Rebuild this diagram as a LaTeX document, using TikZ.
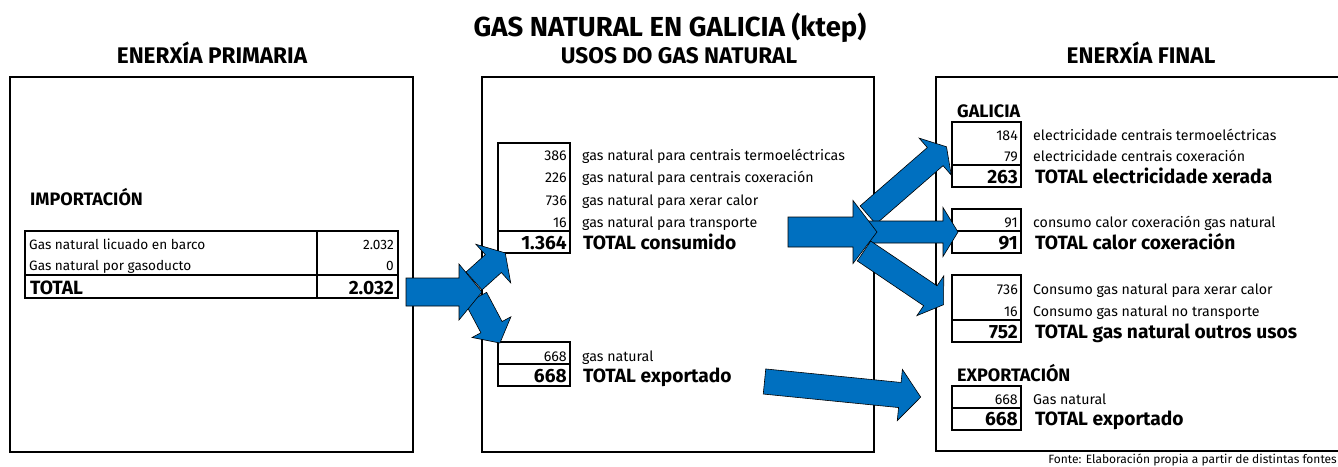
\documentclass[tikz,border=0pt]{standalone}
\usepackage{fontspec}
\setmainfont{Fira Sans}
\usetikzlibrary{positioning}

\definecolor{flowblue}{HTML}{0070C0}
\newcommand{\rowfont}{\fontsize{14.2}{16}\selectfont}
\newcommand{\leftfont}{\fontsize{13.6}{15}\selectfont}
\newcommand{\totfont}{\fontsize{19.2}{21}\selectfont\bfseries}
\newcommand{\headfont}{\fontsize{22.6}{24}\selectfont\bfseries}
\newcommand{\sectfont}{\fontsize{18}{20}\selectfont\bfseries}
% block arrow: tail, angle, length, shaft half width, head half width, head length
\newcommand{\flowarrow}[6]{%
  \begin{scope}[shift={#1}, rotate=#2]
    \filldraw[flow] (0,#4) -- ({#3-#6},#4) -- ({#3-#6},#5) -- (#3,0)
      -- ({#3-#6},-#5) -- ({#3-#6},-#4) -- (0,-#4) -- cycle;
  \end{scope}}

\tikzset{
  panel/.style={draw, line width=1.5pt},
  cell/.style={draw, line width=1.5pt},
  flow/.style={fill=flowblue, draw=black, line width=0.6pt},
  num/.style={anchor=base east, inner sep=0pt, font=\rowfont},
  numtot/.style={anchor=base east, inner sep=0pt, font=\totfont},
  lbl/.style={inner sep=0pt, font=\rowfont},
  lbltot/.style={inner sep=0pt, font=\totfont},
  head/.style={anchor=base, inner sep=0pt, font=\headfont},
  sect/.style={anchor=base west, inner sep=0pt, font=\sectfont}
}

\begin{document}
\begin{tikzpicture}[x=1pt, y=-1pt]
    \clip (0,0) rectangle (1338,466);

    \node (title) [anchor=base, inner sep=0pt, font=\fontsize{27.5}{30}\selectfont\bfseries] at (670,36) {GAS NATURAL EN GALICIA (ktep)};
    \node (hprim) [head] at (212,63.5) {ENERXÍA PRIMARIA};
    \node (husos) [head] at (679,63.5) {USOS DO GAS NATURAL};
    \node (hfinal) [head] at (1141,63.5) {ENERXÍA FINAL};

    % panels
    \draw [panel] (10,77) rectangle (413,452);
    \draw [panel] (482,77) rectangle (874,452);
    \draw [panel] (936,77) rectangle (1345,451);

    % primary energy
    \node (imp) [sect] at (30,205) {IMPORTACIÓN};
    \draw [cell] (25,231) rectangle (398,298);
    \draw [cell] (317,231) -- (317,298);
    \draw [cell] (25,275) -- (398,275);
    \node (lic) [lbl, font=\leftfont, anchor=base west] at (29,249.3) {Gas natural licuado en barco};
    \node (licv) [num, font=\leftfont] at (394,249.3) {2.032};
    \node (gdt) [lbl, font=\leftfont, anchor=base west] at (29,270.7) {Gas natural por gasoducto};
    \node (gdtv) [num, font=\leftfont] at (394,270.7) {0};
    \node (tot) [lbltot, anchor=base west] at (30,294) {TOTAL};
    \node (totv) [numtot] at (394,294) {2.032};

    % uses
    \draw [cell] (498,143) rectangle (570,253);
    \draw [cell] (498,231) -- (570,231);
    \node (c386) [num] at (567,160.7) {386};
    \node (l386) [lbl, base right=15pt of c386] {gas natural para centrais termoeléctricas};
    \node (c226) [num] at (567,182.7) {226};
    \node (l226) [lbl, base right=15pt of c226] {gas natural para centrais coxeración};
    \node (c736) [num] at (567,205) {736};
    \node (l736) [lbl, base right=15pt of c736] {gas natural para xerar calor};
    \node (c16) [num] at (567,227.7) {16};
    \node (l16) [lbl, base right=15pt of c16] {gas natural para transporte};
    \node (ctot) [numtot] at (567,249.3) {1.364};
    \node (ltot) [lbltot, base right=16pt of ctot] {TOTAL consumido};

    \draw [cell] (498,342) rectangle (570,386);
    \draw [cell] (498,364) -- (570,364);
    \node (e668) [num] at (567,361) {668};
    \node (le668) [lbl, base right=15pt of e668] {gas natural};
    \node (etot) [numtot] at (567,382.7) {668};
    \node (letot) [lbltot, base right=16pt of etot] {TOTAL exportado};

    % final energy
    \node (gal) [sect] at (957,117.7) {GALICIA};
    \draw [cell] (952,122) rectangle (1021,187);
    \draw [cell] (952,165) -- (1021,165);
    \node (f184) [num] at (1018,140) {184};
    \node (lf184) [lbl, base right=15pt of f184] {electricidade centrais termoeléctricas};
    \node (f79) [num] at (1018,161) {79};
    \node (lf79) [lbl, base right=15pt of f79] {electricidade centrais coxeración};
    \node (f263) [numtot] at (1018,183.3) {263};
    \node (lf263) [lbltot, base right=17pt of f263] {TOTAL electricidade xerada};

    \draw [cell] (952,209) rectangle (1021,253);
    \draw [cell] (952,231) -- (1021,231);
    \node (f91) [num] at (1018,227.7) {91};
    \node (lf91) [lbl, base right=15pt of f91] {consumo calor coxeración gas natural};
    \node (f91t) [numtot] at (1018,249.3) {91};
    \node (lf91t) [lbltot, base right=17pt of f91t] {TOTAL calor coxeración};

    \draw [cell] (952,275) rectangle (1021,342);
    \draw [cell] (952,320) -- (1021,320);
    \node (f736) [num] at (1018,294.3) {736};
    \node (lf736) [lbl, base right=15pt of f736] {Consumo gas natural para xerar calor};
    \node (f16) [num] at (1018,316.7) {16};
    \node (lf16) [lbl, base right=15pt of f16] {Consumo gas natural no transporte};
    \node (f752) [numtot] at (1018,338.3) {752};
    \node (lf752) [lbltot, base right=17pt of f752] {TOTAL gas natural outros usos};

    \node (exp) [sect] at (957,381) {EXPORTACIÓN};
    \draw [cell] (952,386) rectangle (1021,430);
    \draw [cell] (952,408) -- (1021,408);
    \node (x668) [num] at (1018,404) {668};
    \node (lx668) [lbl, base right=15pt of x668] {Gas natural};
    \node (x668t) [numtot] at (1018,425.7) {668};
    \node (lx668t) [lbltot, base right=17pt of x668t] {TOTAL exportado};

    % flows
    \flowarrow{(474,281)}{42}{42}{12}{26}{16}
    \flowarrow{(476,298)}{-62}{51}{12}{22}{18}
    \flowarrow{(406,292)}{0}{76}{14}{28}{23}
    \flowarrow{(868,215)}{41}{104}{12}{24.5}{15}
    \flowarrow{(868,232)}{0}{90}{11}{24.5}{15}
    \flowarrow{(864,251)}{-34}{96}{12}{24}{16}
    \flowarrow{(788,232)}{0}{89}{15}{31.5}{24}
    \flowarrow{(764.5,381.5)}{-5.7}{157}{12.6}{25.7}{21}

    \node (src) [inner sep=0pt, anchor=base east, font=\fontsize{12}{14}\selectfont] at (1337,463) {Fonte: Elaboración propia a partir de distintas fontes};
\end{tikzpicture}
\end{document}
